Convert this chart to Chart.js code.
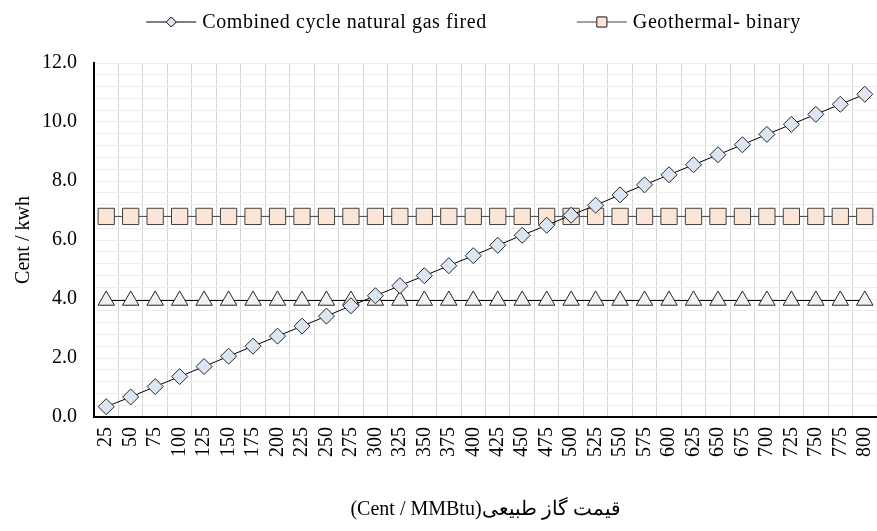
<!DOCTYPE html>
<html>
<head>
<meta charset="utf-8">
<script src="https://cdn.jsdelivr.net/npm/chart.js@4"></script>
<style>
  html, body { margin: 0; padding: 0; background: #fff; }
  #wrap { width: 877px; height: 531px; }
</style>
</head>
<body>
<div id="wrap"><canvas id="lineChart"></canvas></div>
<script>
const gasPrices = ['25', '50', '75', '100', '125', '150', '175', '200', '225', '250', '275', '300',
  '325', '350', '375', '400', '425', '450', '475', '500', '525', '550', '575', '600',
  '625', '650', '675', '700', '725', '750', '775', '800'];

const combinedCycle = [0.35, 0.68, 1.03, 1.37, 1.71, 2.06, 2.40, 2.74, 3.08, 3.42, 3.77, 4.11,
  4.45, 4.79, 5.13, 5.47, 5.82, 6.16, 6.50, 6.84, 7.18, 7.53, 7.87, 8.21,
  8.55, 8.89, 9.23, 9.58, 9.92, 10.26, 10.60, 10.94];

const geothermalBinary = [6.8, 6.8, 6.8, 6.8, 6.8, 6.8, 6.8, 6.8, 6.8, 6.8, 6.8, 6.8,
  6.8, 6.8, 6.8, 6.8, 6.8, 6.8, 6.8, 6.8, 6.8, 6.8, 6.8, 6.8,
  6.8, 6.8, 6.8, 6.8, 6.8, 6.8, 6.8, 6.8];

const thirdSeries = [3.95, 3.95, 3.95, 3.95, 3.95, 3.95, 3.95, 3.95, 3.95, 3.95, 3.95, 3.95,
  3.95, 3.95, 3.95, 3.95, 3.95, 3.95, 3.95, 3.95, 3.95, 3.95, 3.95, 3.95,
  3.95, 3.95, 3.95, 3.95, 3.95, 3.95, 3.95, 3.95];

const yTitle = 'Cent / kwh';
const xTitle = '(Cent / MMBtu)قیمت گاز طبیعی';
const font = "'Liberation Serif', 'DejaVu Serif', serif";

// legend drawn above the plot: line + marker + text, like the spreadsheet one
const topLegend = {
  id: 'topLegend',
  afterDraw(chart) {
    const ctx = chart.ctx;
    const items = chart.data.datasets.filter(ds => ds.inLegend);
    const lineLen = 50, textGap = 6, itemGap = 90;
    ctx.save();
    ctx.font = '20px ' + font;
    ctx.letterSpacing = '0.6px';
    const widths = items.map(ds => lineLen + textGap + ctx.measureText(ds.label).width);
    const total = widths.reduce((a, b) => a + b, 0) + itemGap * (items.length - 1);
    const area = chart.chartArea;
    let x = (area.left + area.right) / 2 - 12 - total / 2;
    const y = 22;
    items.forEach((ds, i) => {
      ctx.strokeStyle = ds.borderColor;
      ctx.lineWidth = 1;
      ctx.beginPath();
      ctx.moveTo(x, y);
      ctx.lineTo(x + lineLen, y);
      ctx.stroke();
      ctx.fillStyle = ds.pointBackgroundColor;
      ctx.strokeStyle = ds.pointBorderColor;
      Chart.helpers.drawPoint(ctx, { pointStyle: ds.pointStyle, radius: ds.legendRadius, rotation: 0, borderWidth: 1 }, x + lineLen / 2, y);
      ctx.fill();
      ctx.stroke();
      ctx.fillStyle = '#000';
      ctx.textBaseline = 'middle';
      ctx.textAlign = 'left';
      ctx.fillText(ds.label, x + lineLen + textGap, y + 1);
      x += widths[i] + itemGap;
    });
    ctx.restore();
  }
};

new Chart(document.getElementById('lineChart'), {
  type: 'line',
  data: {
    labels: gasPrices,
    datasets: [
      {
        label: 'Combined cycle natural gas fired',
        data: combinedCycle,
        inLegend: true,
        borderColor: '#000',
        borderWidth: 1,
        pointStyle: 'rectRot',
        pointRadius: 8,
        legendRadius: 5,
        pointBackgroundColor: '#dce6f2',
        pointBorderColor: '#262626',
        pointBorderWidth: 1,
        order: 1
      },
      {
        label: 'Geothermal- binary',
        data: geothermalBinary,
        inLegend: true,
        borderColor: '#404040',
        borderWidth: 1,
        pointStyle: 'rect',
        pointRadius: 11.5,
        legendRadius: 7,
        pointBackgroundColor: '#fbe5d6',
        pointBorderColor: '#404040',
        pointBorderWidth: 1,
        order: 2
      },
      {
        label: '',
        data: thirdSeries,
        inLegend: false,
        borderColor: '#000',
        borderWidth: 1,
        pointStyle: 'triangle',
        pointRadius: 9.5,
        legendRadius: 6,
        pointBackgroundColor: '#f2f2f2',
        pointBorderColor: '#262626',
        pointBorderWidth: 1,
        order: 3
      }
    ]
  },
  options: {
    responsive: true,
    maintainAspectRatio: false,
    animation: false,
    layout: { autoPadding: false, padding: { top: 63, left: 10, right: 0, bottom: 9 } },
    plugins: {
      legend: { display: false },
      tooltip: { enabled: false }
    },
    scales: {
      x: {
        offset: true,
        afterFit: scale => { scale.paddingRight = 0; scale.paddingLeft = 0; },
        grid: { offset: true, color: '#d6d6d6', lineWidth: 1, drawTicks: false },
        border: { color: '#000', width: 2 },
        ticks: {
          color: '#000',
          font: { family: font, size: 20 },
          minRotation: 90,
          maxRotation: 90,
          autoSkip: false,
          padding: 10
        },
        title: {
          display: true,
          text: xTitle,
          color: '#000',
          font: { family: font, size: 20 },
          padding: { top: 31, bottom: 0 }
        }
      },
      y: {
        min: 0,
        max: 12,
        afterFit: scale => { scale.width = 84; },
        grid: { color: '#ececec', lineWidth: 1, drawTicks: false },
        border: { color: '#000', width: 2 },
        ticks: {
          stepSize: 0.4,
          maxTicksLimit: 40,
          autoSkip: false,
          color: '#000',
          font: { family: font, size: 20 },
          padding: 17,
          callback: v => Math.abs(v / 2 - Math.round(v / 2)) < 1e-6 ? v.toFixed(1) : ''
        },
        title: {
          display: true,
          text: yTitle,
          color: '#000',
          font: { family: font, size: 20 },
          padding: { top: 2, bottom: 8 }
        }
      }
    }
  },
  plugins: [topLegend]
});
</script>
</body>
</html>
